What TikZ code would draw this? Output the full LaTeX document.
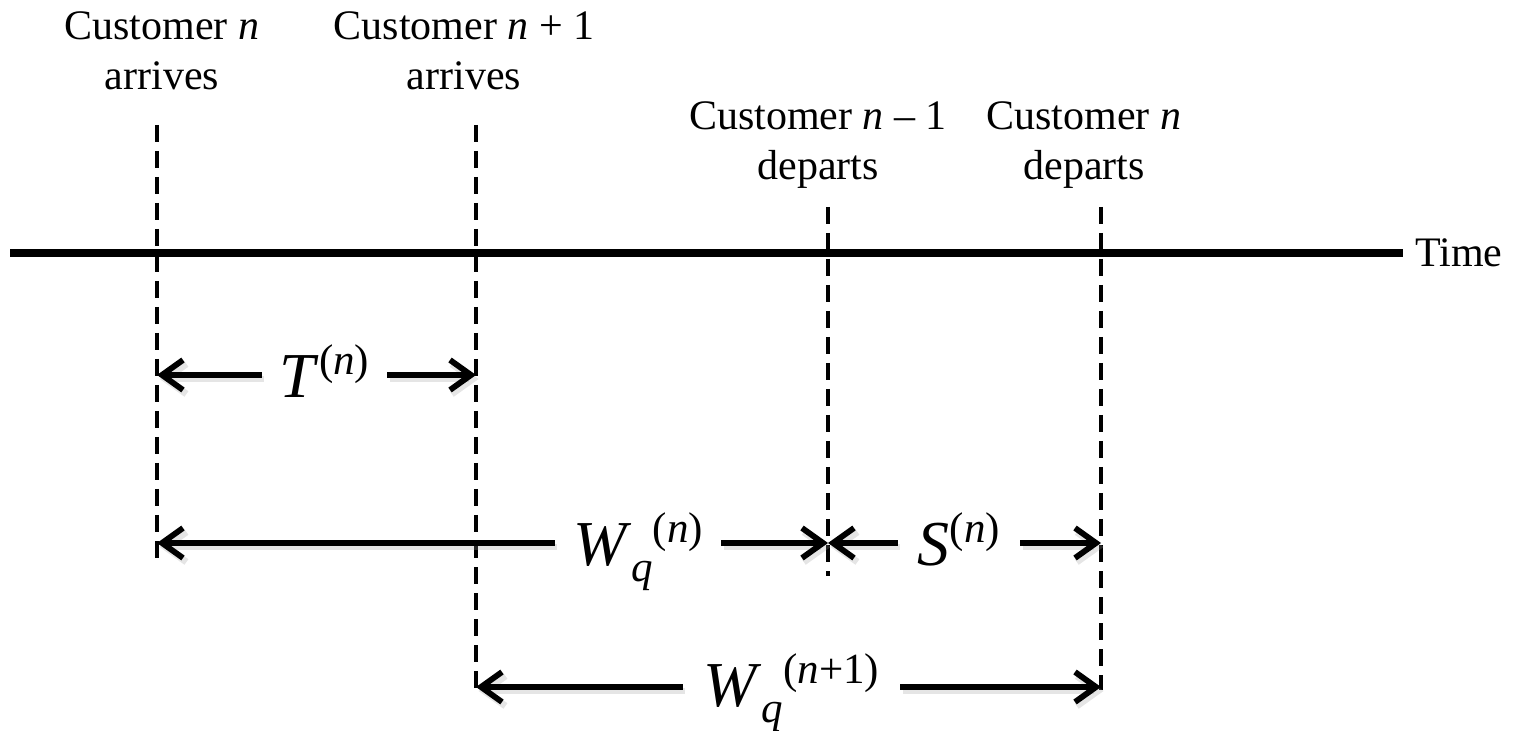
\documentclass[tikz,border=0pt]{standalone}
\usepackage{fontspec}
\setmainfont{Liberation Serif}
\usetikzlibrary{arrows.meta}

% sizes for the interval symbols and their scripts
\newcommand{\symsize}{\fontsize{32}{32}\selectfont}
\newcommand{\scrsize}{\fontsize{21.5}{21.5}\selectfont}
\newcommand{\upidx}[1]{\raisebox{11.5pt}{\scrsize #1}}
\newcommand{\downidx}[1]{\raisebox{-8pt}{\scrsize #1}}

\tikzset{
  timeaxis/.style={line width=3.6pt},
  guide/.style={line width=2.4pt, dash pattern=on 8.5pt off 4.5pt},
  dimarrow/.style={line width=2.9pt, -{Straight Barb[length=10.5pt,width=15pt]},
    preaction={draw=black!40, opacity=.25, line width=3.4pt,
      transform canvas={shift={(1.3pt,-2pt)}}}},
  evtlabel/.style={align=center, inner sep=0pt, text depth=0pt,
    font=\fontsize{21}{25}\selectfont},
  dimlabel/.style={inner sep=0pt, anchor=base, font=\symsize},
}

\begin{document}
\begin{tikzpicture}[x=0.5pt,y=-0.5pt]
\useasboundingbox (0,0) rectangle (1514,731);

% event labels
\node[evtlabel, anchor=south] (arrN)  at (162,90)  {Customer \textit{n}\\arrives};
\node[evtlabel, anchor=south] (arrN1) at (464,90)  {Customer \textit{n} + 1\\arrives};
\node[evtlabel, anchor=south] (depN1) at (818,180) {Customer \textit{n} – 1\\departs};
\node[evtlabel, anchor=south] (depN)  at (1084,180) {Customer \textit{n}\\departs};

% time axis
\coordinate (axisStart) at (10,253);
\node[inner xsep=6pt, inner ysep=0pt, anchor=west, font=\fontsize{21}{25}\selectfont]
  (time) at (1403,253) {Time};
\draw[timeaxis] (axisStart) -- (time.west);

% event instants (dashed guides)
\coordinate (gA1) at (157,125);  \coordinate (gA2) at (157,558);
\coordinate (gB1) at (476,125);  \coordinate (gB2) at (476,690);
\coordinate (gC1) at (828,207);  \coordinate (gC2) at (828,576);
\coordinate (gD1) at (1101,207); \coordinate (gD2) at (1101,690);
\draw[guide] (gA1) -- (gA2);
\draw[guide] (gB1) -- (gB2);
\draw[guide] (gC1) -- (gC2);
\draw[guide] (gD1) -- (gD2);

% interval end points
\coordinate (tL) at (157,375);  \coordinate (tR) at (476,375);
\coordinate (wL) at (157,543);  \coordinate (wR) at (828,543);
\coordinate (sL) at (828,543);  \coordinate (sR) at (1101,543);
\coordinate (vL) at (476,687);  \coordinate (vR) at (1101,687);

% interval symbols
\node[dimlabel, minimum width=62.5pt] (T) at (324.5,398)
  {\textit{T}\upidx{(\textit{n})}};
\node[dimlabel, minimum width=83pt] (Wq) at (638,565)
  {\textit{W}\downidx{\textit{q}}\upidx{(\textit{n})}};
\node[dimlabel, minimum width=61pt] (S) at (959,565)
  {\textit{S}\upidx{(\textit{n})}};
\node[dimlabel, minimum width=108.5pt] (Wq1) at (791.5,706)
  {\textit{W}\downidx{\textit{q}}\upidx{(\textit{n}+1)}};

% interval arrows
\draw[dimarrow] (T.west |- tL) -- (tL);
\draw[dimarrow] (T.east |- tR) -- (tR);
\draw[dimarrow] (Wq.west |- wL) -- (wL);
\draw[dimarrow] (Wq.east |- wR) -- (wR);
\draw[dimarrow] (S.west |- sL) -- (sL);
\draw[dimarrow] (S.east |- sR) -- (sR);
\draw[dimarrow] (Wq1.west |- vL) -- (vL);
\draw[dimarrow] (Wq1.east |- vR) -- (vR);
\end{tikzpicture}
\end{document}
